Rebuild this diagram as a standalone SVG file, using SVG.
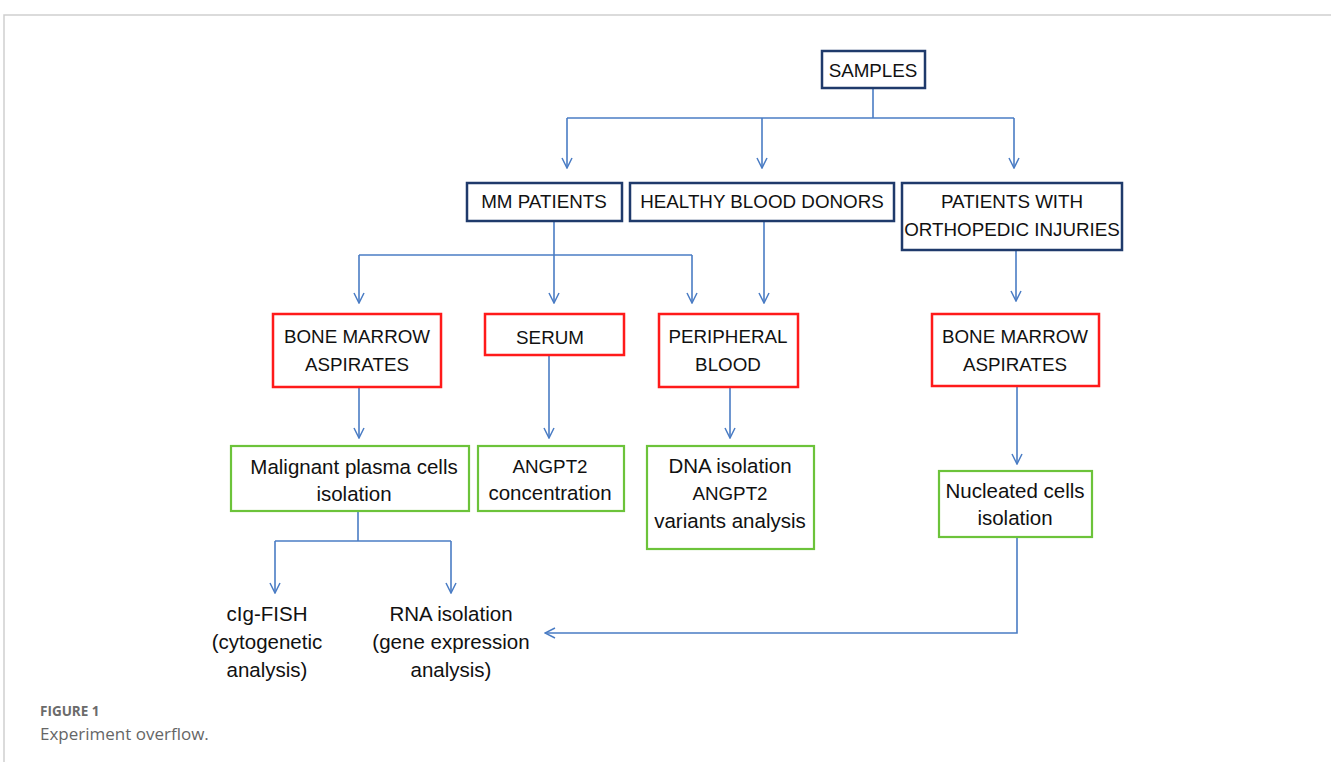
<svg xmlns="http://www.w3.org/2000/svg" width="1331" height="762" viewBox="0 0 1331 762">
<defs>
<marker id="arr" viewBox="0 0 12 12" refX="11" refY="6" markerWidth="12" markerHeight="12" markerUnits="userSpaceOnUse" orient="auto">
<path d="M1,1 L11,6 L1,11" fill="none" stroke="#4a7cc4" stroke-width="1.5"/>
</marker>
<style>
.t{font-family:"Liberation Sans",Arial,sans-serif;font-size:18.8px;fill:#111;text-anchor:middle}
.l{font-size:20.5px}
.n{fill:#fff;stroke:#1f3a6b;stroke-width:2.5}
.r{fill:#fff;stroke:#ff1a1a;stroke-width:2.5}
.g{fill:#fff;stroke:#6cc33a;stroke-width:2.2}
.c{fill:none;stroke:#4a7cc4;stroke-width:1.6}
.a{marker-end:url(#arr)}
</style>
</defs>
<rect width="1331" height="762" fill="#fff"/>
<path d="M4,762 V15 H1331" fill="none" stroke="#cfcfcf" stroke-width="1.5"/>

<g id="connectors">
<path class="c" d="M873,88 V118"/>
<path class="c" d="M567,118 H1014"/>
<path class="c a" d="M567,118 V168"/>
<path class="c a" d="M762,118 V168"/>
<path class="c a" d="M1014,118 V168"/>
<path class="c" d="M554,221 V255"/>
<path class="c" d="M359,255 H692"/>
<path class="c a" d="M359,255 V303"/>
<path class="c a" d="M554,255 V303"/>
<path class="c a" d="M692,255 V303"/>
<path class="c a" d="M764,221 V303"/>
<path class="c a" d="M1016,250 V301"/>
<path class="c a" d="M359,387 V438"/>
<path class="c a" d="M549,355 V438"/>
<path class="c a" d="M730,387 V438"/>
<path class="c a" d="M1017,386 V464"/>
<path class="c" d="M358,511 V541"/>
<path class="c" d="M275,541 H451"/>
<path class="c a" d="M275,541 V593"/>
<path class="c a" d="M451,541 V593"/>
<path class="c a" d="M1017,537 V633 H545"/>
</g>

<g id="samples"><rect class="n" x="822" y="51" width="103" height="37"/><text class="t" x="873" y="77">SAMPLES</text></g>
<g id="mm-patients"><rect class="n" x="467" y="183" width="155" height="38"/><text class="t" x="544" y="208">MM PATIENTS</text></g>
<g id="healthy-donors"><rect class="n" x="630" y="183" width="264" height="38"/><text class="t" x="762" y="208">HEALTHY BLOOD DONORS</text></g>
<g id="ortho-patients"><rect class="n" x="902" y="183" width="220" height="67"/><text class="t" x="1012" y="208">PATIENTS WITH</text><text class="t" x="1012" y="236">ORTHOPEDIC INJURIES</text></g>

<g id="bm-left"><rect class="r" x="273" y="314" width="168" height="73"/><text class="t" x="357" y="343">BONE MARROW</text><text class="t" x="357" y="371">ASPIRATES</text></g>
<g id="serum"><rect class="r" x="485" y="314" width="139" height="41"/><text class="t" x="550" y="344">SERUM</text></g>
<g id="peripheral-blood"><rect class="r" x="659" y="314" width="139" height="73"/><text class="t" x="728" y="343">PERIPHERAL</text><text class="t" x="728" y="371">BLOOD</text></g>
<g id="bm-right"><rect class="r" x="932" y="314" width="167" height="72"/><text class="t" x="1015" y="343">BONE MARROW</text><text class="t" x="1015" y="371">ASPIRATES</text></g>

<g id="malignant"><rect class="g" x="231" y="446" width="238" height="65"/><text class="t l" x="354" y="474">Malignant plasma cells</text><text class="t l" x="354" y="501">isolation</text></g>
<g id="angpt2-conc"><rect class="g" x="478" y="446" width="146" height="65"/><text class="t" x="550" y="473">ANGPT2</text><text class="t l" x="550" y="500">concentration</text></g>
<g id="dna-isolation"><rect class="g" x="647" y="446" width="167" height="103"/><text class="t l" x="730" y="473">DNA isolation</text><text class="t" x="730" y="500">ANGPT2</text><text class="t l" x="730" y="528">variants analysis</text></g>
<g id="nucleated"><rect class="g" x="939" y="471" width="153" height="66"/><text class="t l" x="1015" y="498">Nucleated cells</text><text class="t l" x="1015" y="525">isolation</text></g>

<g id="cig-fish"><text class="t l" x="267" y="621">cIg-FISH</text><text class="t l" x="267" y="649">(cytogenetic</text><text class="t l" x="267" y="677">analysis)</text></g>
<g id="rna-isolation"><text class="t l" x="451" y="621">RNA isolation</text><text class="t l" x="451" y="649">(gene expression</text><text class="t l" x="451" y="677">analysis)</text></g>

<g id="caption">
<text x="40" y="716" style="font-family:'Open Sans','Liberation Sans',sans-serif;font-size:13.5px;font-weight:bold;fill:#6b6b6b">FIGURE 1</text>
<text x="40" y="740" style="font-family:'Open Sans','Liberation Sans',sans-serif;font-size:17px;fill:#666">Experiment overflow.</text>
</g>
</svg>
